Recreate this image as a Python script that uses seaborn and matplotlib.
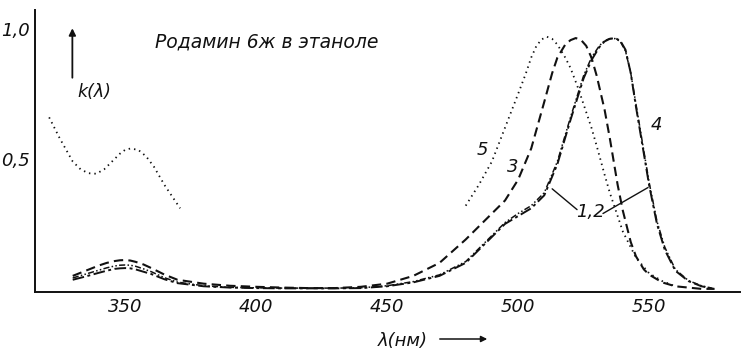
import numpy as np
import pandas as pd
import matplotlib
matplotlib.use("Agg")
import matplotlib.pyplot as plt
import seaborn as sns

# ---- data ----
lam3 = [330, 335, 340, 343, 346, 348, 350, 352, 354, 357, 360, 365, 370, 380, 390, 400, 410, 420,
        430, 440, 450, 460, 470, 480, 485, 490, 495, 500, 505, 510, 513, 515, 518, 520, 522, 524,
        526, 528, 530, 533, 535, 538, 540, 543, 545, 548, 550, 555, 560, 565, 570, 575]
k3 = [0.05, 0.07, 0.09, 0.10, 0.107, 0.11, 0.111, 0.109, 0.104, 0.094, 0.08, 0.055, 0.035, 0.02,
      0.012, 0.008, 0.005, 0.003, 0.003, 0.008, 0.02, 0.05, 0.10, 0.19, 0.24, 0.29, 0.34, 0.42,
      0.54, 0.72, 0.83, 0.89, 0.94, 0.957, 0.965, 0.958, 0.935, 0.89, 0.82, 0.69, 0.58, 0.40,
      0.30, 0.18, 0.125, 0.075, 0.055, 0.025, 0.01, 0.005, 0.0, 0.0]
lam12 = [330, 335, 340, 343, 346, 348, 350, 352, 354, 357, 360, 365, 370, 380, 390, 400, 410, 420,
         430, 440, 450, 460, 470, 480, 485, 490, 495, 500, 505, 510, 515, 520, 525, 528, 531, 533,
         535, 537, 539, 541, 543, 545, 547, 550, 553, 556, 560, 565, 570, 575]
k1 = [0.035, 0.048, 0.062, 0.07, 0.077, 0.079, 0.08, 0.079, 0.075, 0.066, 0.057, 0.037, 0.022, 0.01,
      0.005, 0.003, 0.002, 0.002, 0.002, 0.003, 0.01, 0.025, 0.05, 0.10, 0.15, 0.20, 0.25, 0.28,
      0.31, 0.36, 0.48, 0.65, 0.81, 0.88, 0.93, 0.952, 0.962, 0.965, 0.955, 0.92, 0.83, 0.70,
      0.58, 0.40, 0.25, 0.15, 0.07, 0.03, 0.01, 0.0]
k2 = [0.042, 0.057, 0.072, 0.081, 0.088, 0.091, 0.092, 0.091, 0.087, 0.077, 0.066, 0.043, 0.026, 0.012,
      0.006, 0.004, 0.003, 0.003, 0.003, 0.004, 0.012, 0.028, 0.054, 0.105, 0.155, 0.205, 0.255, 0.29,
      0.32, 0.37, 0.49, 0.66, 0.82, 0.89, 0.935, 0.955, 0.963, 0.963, 0.952, 0.915, 0.83, 0.71,
      0.59, 0.41, 0.26, 0.16, 0.075, 0.032, 0.012, 0.0]
lam5_uv = [321, 325, 330, 333, 336, 339, 342, 345, 348, 350, 352, 355, 358, 361, 365, 371]
k5_uv = [0.66, 0.58, 0.49, 0.46, 0.445, 0.443, 0.46, 0.49, 0.52, 0.535, 0.54, 0.535, 0.51, 0.47, 0.40, 0.31]
lam5_vis = [480, 485, 490, 495, 500, 503, 505, 507, 509, 511, 513, 515, 518, 520, 523, 525, 528,
            530, 533, 535, 538, 540, 545, 550, 555, 560]
k5_vis = [0.32, 0.40, 0.49, 0.62, 0.75, 0.83, 0.89, 0.935, 0.96, 0.97, 0.962, 0.94, 0.89, 0.85, 0.77,
          0.71, 0.62, 0.55, 0.44, 0.37, 0.28, 0.22, 0.12, 0.06, 0.03, 0.01]

xticks = [350, 400, 450, 500, 550]
yticks = [0.5, 1.0]
ytick_labels = ["0,5", "1,0"]
title = "Родамин 6ж в этаноле"

# ---- figure ----
sns.set_theme(style="white")
plt.rcParams['font.family'] = ['DejaVu Sans']
fig = plt.figure(figsize=(7.48, 3.55), dpi=100)
ax = fig.add_axes([35/748, 1-292/355, 705/748, 282/355])

ink = "#111111"
sns.lineplot(x=lam5_uv, y=k5_uv, ax=ax, color=ink, lw=1.3, linestyle=(0, (0.8, 2.2)), sort=False)
sns.lineplot(x=lam5_vis, y=k5_vis, ax=ax, color=ink, lw=1.3, linestyle=(0, (0.8, 2.2)), sort=False)
sns.lineplot(x=lam3, y=k3, ax=ax, color=ink, lw=1.5, linestyle=(0, (4.5, 2.5)), sort=False)
sns.lineplot(x=lam12, y=k1, ax=ax, color=ink, lw=1.4, linestyle=(0, (6, 1.8, 1.5, 1.8)), sort=False)
sns.lineplot(x=lam12, y=k2, ax=ax, color=ink, lw=1.1, linestyle=(0, (4, 1.5, 1, 1.5, 1, 1.5)), sort=False)

ax.set_xlim(315.6, 584.7)
ax.set_ylim(-0.012, 1.073)
ax.set_xticks(xticks)
ax.set_xticklabels([str(t) for t in xticks])
ax.set_yticks(yticks)
ax.set_yticklabels(ytick_labels)
for s in ["top", "right"]:
    ax.spines[s].set_visible(False)
for s in ["left", "bottom"]:
    ax.spines[s].set_color(ink)
    ax.spines[s].set_linewidth(1.4)
ax.tick_params(axis="both", direction="in", length=5, width=1.2, colors=ink,
               labelsize=13, pad=4)
for lbl in ax.get_xticklabels() + ax.get_yticklabels():
    lbl.set_fontstyle("italic")

ax.set_xlabel("")
ax.set_ylabel("")

ax.text(0.328, 0.885, title, transform=ax.transAxes, fontsize=13.5, style="italic",
        ha="center", va="center", color=ink)
ax.text(0.06, 0.71, "k(λ)", transform=ax.transAxes, fontsize=12.5, style="italic",
        ha="left", va="center", color=ink)
ax.annotate("", xy=(0.053, 0.945), xytext=(0.053, 0.75), xycoords="axes fraction",
            arrowprops=dict(arrowstyle="-|>", color=ink, lw=1.3, mutation_scale=10))

# curve labels
ax.text(486.5, 0.535, "5", fontsize=13, style="italic", ha="center", va="center", color=ink)
ax.text(498, 0.47, "3", fontsize=13, style="italic", ha="center", va="center", color=ink)
ax.text(552.7, 0.63, "4", fontsize=13, style="italic", ha="center", va="center", color=ink)
ax.text(527.5, 0.295, "1,2", fontsize=13, style="italic", ha="center", va="center", color=ink)
ax.plot([513, 522.5], [0.385, 0.305], color=ink, lw=1.0)
ax.plot([532.4, 549.6], [0.29, 0.39], color=ink, lw=1.0)

# x-axis label with arrow
fig.text(403/748, 1-341/355, "λ(нм)", fontsize=13, style="italic", ha="center", va="center", color=ink)
fig.add_artist(matplotlib.patches.FancyArrowPatch((437/748, 1-339/355), (490/748, 1-339/355),
               transform=fig.transFigure, arrowstyle="-|>", color=ink, lw=1.1, mutation_scale=9))

fig.savefig("out.png", dpi=100, facecolor="white")
